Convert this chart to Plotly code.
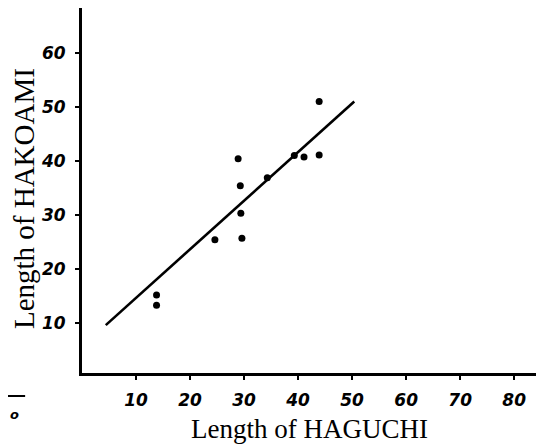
import plotly.graph_objects as go

# Data
haguchi = [13.8, 13.8, 24.6, 29.4, 29.6, 29.3, 28.9, 34.3, 39.3, 41.1, 43.9, 43.9]
hakoami = [13.3, 15.2, 25.4, 30.3, 25.7, 35.4, 40.4, 36.9, 41.0, 40.7, 41.1, 51.0]
fit_x = [4.4, 50.4]
fit_y = [9.6, 51.0]
x_ticks = [10, 20, 30, 40, 50, 60, 70, 80]
y_ticks = [10, 20, 30, 40, 50, 60]

fig = go.Figure()
fig.add_trace(go.Scatter(x=fit_x, y=fit_y, mode="lines",
                         line=dict(color="black", width=2.6), showlegend=False))
fig.add_trace(go.Scatter(x=haguchi, y=hakoami, mode="markers",
                         marker=dict(color="black", size=7), showlegend=False))

tickfont = dict(family="DejaVu Sans", size=17, color="black", style="italic", weight="bold")

fig.update_layout(
    width=544, height=444,
    margin=dict(l=74, r=0, t=0, b=79, autoexpand=False),
    paper_bgcolor="white", plot_bgcolor="white",
    xaxis=dict(range=[0, 87.0], tickvals=x_ticks, ticktext=[str(v) for v in x_ticks],
               showgrid=False, zeroline=False, showline=True, linecolor="black", linewidth=3,
               ticks="outside", ticklen=4, tickwidth=2, tickcolor="black", tickfont=tickfont,
               ticklabelstandoff=6, automargin=False),
    yaxis=dict(range=[0.74, 68.3], tickvals=y_ticks, ticktext=[str(v) for v in y_ticks],
               showgrid=False, zeroline=False, showline=True, linecolor="black", linewidth=3,
               ticks="outside", ticklen=4, tickwidth=2, tickcolor="black", tickfont=tickfont,
               ticklabelstandoff=6, automargin=False),
    annotations=[
        dict(text="Length of HAGUCHI", xref="paper", yref="paper", x=0.483, y=-0.153,
             xanchor="center", yanchor="middle",
             showarrow=False, font=dict(family="Liberation Serif", size=27, color="black")),
        dict(text="Length of HAKOAMI", xref="paper", yref="paper", x=-0.123, y=0.477,
             xanchor="center", yanchor="middle",
             textangle=-90, showarrow=False,
             font=dict(family="Liberation Serif", size=29, color="black")),
        dict(text="o", xref="paper", yref="paper", x=-0.157, y=-0.115,
             xanchor="left", yanchor="middle",
             showarrow=False, font=dict(family="DejaVu Sans", size=13, color="black",
                                        style="italic", weight="bold")),
    ],
    shapes=[dict(type="line", xref="paper", yref="paper", x0=-0.1574, x1=-0.121,
                 y0=-0.063, y1=-0.063, line=dict(color="black", width=2))],
)

fig.write_html("out.html")
